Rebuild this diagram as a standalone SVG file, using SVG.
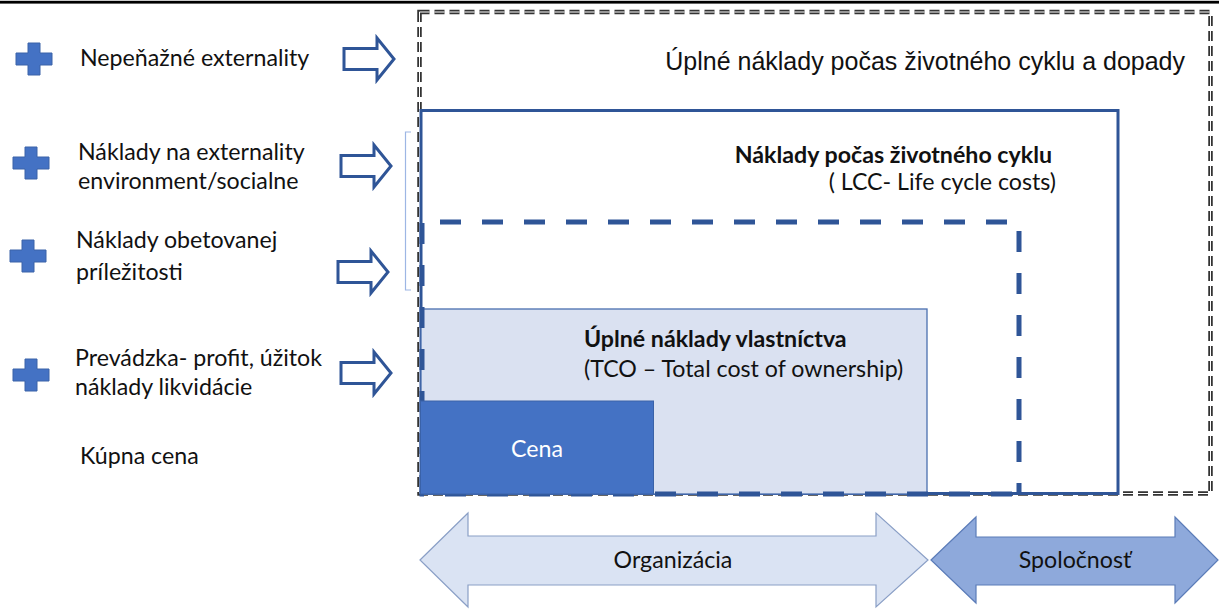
<svg xmlns="http://www.w3.org/2000/svg" width="1219" height="610" viewBox="0 0 1219 610">
  <style>
    .lbl { font-family: Lato, "Liberation Sans", sans-serif; font-size: 23.2px; fill: #111; }
    .bold { font-weight: bold; }
    .arial { font-family: "Liberation Sans", Arial, sans-serif; font-size: 25px; fill: #111; }
    .plus { fill: #4472C4; stroke: #3A62A8; stroke-width: 1; }
    .hollow { fill: #fff; stroke: #2F5597; stroke-width: 3; stroke-linejoin: miter; }
  </style>
  <defs>
    <!-- plus sign centred on 0,0 -->
    <path id="plusShape" d="M-6,-16 H6 V-6 H18 V6 H6 V16 H-6 V6 H-18 V-6 H-6 Z"/>
    <!-- hollow block arrow, tip at 0,0 -->
    <path id="blockArrow" d="M-50,-10.5 H-17 V-21 L0,0 L-17,21 V10.5 H-50 Z"/>
  </defs>

  <rect x="0" y="0.8" width="1219" height="2.8" fill="#000"/>

  <!-- nested cost boxes -->
  <g id="outer-box">
    <rect x="419.5" y="12" width="791" height="481.5" fill="none" stroke="#333" stroke-width="4.5" stroke-dasharray="10 5"/>
    <rect x="419.5" y="12" width="791" height="481.5" fill="none" stroke="#fff" stroke-width="1" stroke-dasharray="10 5"/>
    <text class="arial" x="1185" y="70" text-anchor="end">Úplné náklady počas životného cyklu a dopady</text>
  </g>

  <g id="lcc-box">
    <rect x="421" y="110.5" width="697" height="383" fill="#fff" stroke="#2F5597" stroke-width="3"/>
    <text class="lbl bold" x="1052" y="163" text-anchor="end">Náklady počas životného cyklu</text>
    <text class="lbl" x="1056" y="190" text-anchor="end">( LCC- Life cycle costs)</text>
  </g>

  <g id="tco-box">
    <rect x="421" y="309" width="506" height="185" fill="#DAE1F1" stroke="#4A6FB0" stroke-width="1.3"/>
    <text class="lbl bold" x="584" y="347">Úplné náklady vlastníctva</text>
    <text class="lbl" x="584" y="377">(TCO – Total cost of ownership)</text>
  </g>

  <g id="dashed-box">
    <path d="M440,222 H1019 V494 M422,223 V494 H1019" fill="none" stroke="#2F5597" stroke-width="5" stroke-dasharray="21 21"/>
  </g>

  <g id="cena">
    <rect x="420.5" y="401" width="233" height="93" fill="#4472C4" stroke="#3A62A8" stroke-width="1"/>
    <text class="lbl" x="537" y="457" text-anchor="middle" style="fill:#fff">Cena</text>
  </g>

  <!-- bracket grouping the two middle items -->
  <path d="M411,132 H405.5 V290 H411" fill="none" stroke="#9DB6E4" stroke-width="1.2"/>

  <!-- left column items -->
  <g id="item-nepenazne">
    <use href="#plusShape" class="plus" transform="translate(34,59)"/>
    <text class="lbl" x="80" y="66">Nepeňažné externality</text>
  </g>
  <g id="item-externality">
    <use href="#plusShape" class="plus" transform="translate(31,163)"/>
    <text class="lbl" x="78" y="160">Náklady na externality</text>
    <text class="lbl" x="78" y="189">environment/socialne</text>
  </g>
  <g id="item-obetovanej">
    <use href="#plusShape" class="plus" transform="translate(28,256)"/>
    <text class="lbl" x="76" y="248">Náklady obetovanej</text>
    <text class="lbl" x="76" y="280">príležitosti</text>
  </g>
  <g id="item-prevadzka">
    <use href="#plusShape" class="plus" transform="translate(31,375)"/>
    <text class="lbl" x="75" y="366">Prevádzka- profit, úžitok</text>
    <text class="lbl" x="75" y="395">náklady likvidácie</text>
  </g>
  <g id="item-kupna">
    <text class="lbl" x="80" y="464">Kúpna cena</text>
  </g>

  <!-- arrows pointing into the boxes -->
  <g id="connectors">
    <use href="#blockArrow" class="hollow" transform="translate(394,59)"/>
    <use href="#blockArrow" class="hollow" transform="translate(391,166)"/>
    <use href="#blockArrow" class="hollow" transform="translate(388,272)"/>
    <use href="#blockArrow" class="hollow" transform="translate(391,373)"/>
  </g>

  <!-- scope arrows -->
  <g id="organizacia">
    <path d="M420,560 L468,513 V536 H876 V513 L928,560 L876,607 V585 H468 V607 Z" fill="#DAE3F3" stroke="#8A9FC6" stroke-width="1.2"/>
    <text class="lbl" x="673" y="568" text-anchor="middle">Organizácia</text>
  </g>
  <g id="spolocnost">
    <path d="M931,560 L976,517 V537 H1175 V517 L1218,560 L1175,603 V585 H976 V603 Z" fill="#8EA9DB" stroke="#5B7CB8" stroke-width="1.2"/>
    <text class="lbl" x="1075" y="568" text-anchor="middle">Spoločnosť</text>
  </g>
</svg>
